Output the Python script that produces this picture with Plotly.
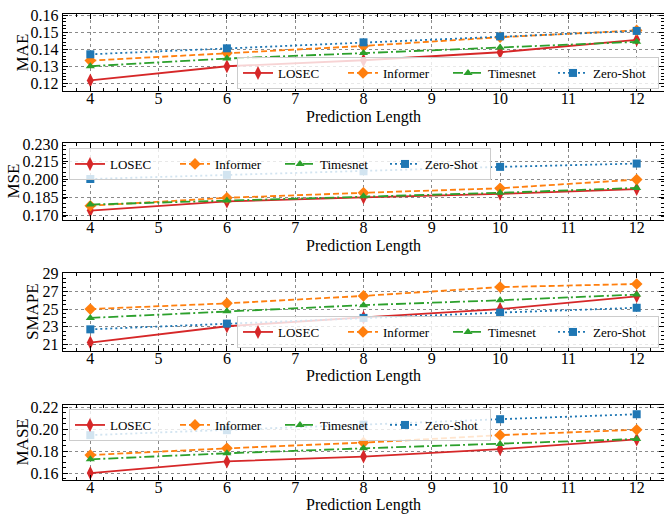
import plotly.graph_objects as go

pred_len = [4, 6, 8, 10, 12]
methods = ["LOSEC", "Informer", "Timesnet", "Zero-Shot"]

mae_losec = [0.1217, 0.1300, 0.1335, 0.1382, 0.1455]
mae_informer = [0.1333, 0.1377, 0.1419, 0.1470, 0.1510]
mae_timesnet = [0.1300, 0.1345, 0.1377, 0.1410, 0.1443]
mae_zeroshot = [0.1370, 0.1405, 0.1440, 0.1475, 0.1507]

mse_losec = [0.1739, 0.1816, 0.1850, 0.1880, 0.1920]
mse_informer = [0.1780, 0.1847, 0.1889, 0.1927, 0.2000]
mse_timesnet = [0.1790, 0.1824, 0.1860, 0.1889, 0.1930]
mse_zeroshot = [0.2005, 0.2040, 0.2070, 0.2107, 0.2135]

smape_losec = [21.2, 23.05, 24.05, 25.0, 26.45]
smape_informer = [25.0, 25.65, 26.5, 27.5, 27.85]
smape_timesnet = [24.0, 24.75, 25.45, 26.0, 26.65]
smape_zeroshot = [22.7, 23.35, 24.0, 24.6, 25.15]

mase_losec = [0.1600, 0.1706, 0.1750, 0.1818, 0.1906]
mase_informer = [0.1764, 0.1825, 0.1877, 0.1945, 0.1994]
mase_timesnet = [0.1725, 0.1780, 0.1825, 0.1865, 0.1910]
mase_zeroshot = [0.1945, 0.1990, 0.2040, 0.2090, 0.2135]

metric_names = ["MAE", "MSE", "SMAPE", "MASE"]
x_title = "Prediction Length"
metric_data = [
    [mae_losec, mae_informer, mae_timesnet, mae_zeroshot],
    [mse_losec, mse_informer, mse_timesnet, mse_zeroshot],
    [smape_losec, smape_informer, smape_timesnet, smape_zeroshot],
    [mase_losec, mase_informer, mase_timesnet, mase_zeroshot],
]
y_ticks = [
    [0.12, 0.13, 0.14, 0.15, 0.16],
    [0.170, 0.185, 0.200, 0.215, 0.230],
    [21, 23, 25, 27, 29],
    [0.16, 0.18, 0.20, 0.22],
]
y_ticktext = [
    ["0.12", "0.13", "0.14", "0.15", "0.16"],
    ["0.170", "0.185", "0.200", "0.215", "0.230"],
    ["21", "23", "25", "27", "29"],
    ["0.16", "0.18", "0.20", "0.22"],
]

# styling
W, H = 664, 514
colors = ["#d62728", "#ff7f0e", "#2ca02c", "#1f77b4"]
dashes = ["solid", "6px,3px", "10px,3px,2px,3px", "2px,3px"]
symbols = ["diamond-tall", "diamond", "triangle-up", "square"]
msizes = [10, 9, 8, 8]
y_ranges = [[0.1155, 0.1606], [0.166, 0.2308], [20.24, 29.1], [0.1537, 0.2219]]
y_minor = [0.002, 0.00375, 0.5, 0.005]
panel_px = [(14, 91), (143, 220), (273, 351), (405, 480)]
xtitle_off = [26, 26, 25, 25]
ytitle_x = [22, 13, 32, 22]
FONT = "Liberation Serif"

fig = go.Figure()
for p in range(4):
    ax = "" if p == 0 else str(p + 1)
    leg = "legend" if p == 0 else "legend%d" % (p + 1)
    for m in range(4):
        fig.add_trace(go.Scatter(
            x=pred_len, y=metric_data[p][m], name=methods[m], mode="lines+markers",
            line=dict(color=colors[m], width=1.8, dash=dashes[m]),
            marker=dict(symbol=symbols[m], size=msizes[m], color=colors[m]),
            xaxis="x" + ax, yaxis="y" + ax, legend=leg, showlegend=True,
        ))

layout = dict(
    width=W, height=H, margin=dict(l=0, r=0, t=0, b=0),
    paper_bgcolor="white", plot_bgcolor="white",
    font=dict(family=FONT, size=16, color="black"),
)
annotations = []
x0 = 63 / W
for p in range(4):
    top, bot = panel_px[p]
    ax = "" if p == 0 else str(p + 1)
    axis_common = dict(
        showline=True, linecolor="black", linewidth=1.4, mirror="ticks",
        ticks="inside", ticklen=5, tickwidth=1, tickcolor="black",
        showgrid=True, gridcolor="#8a8a8a", griddash="dot", gridwidth=1,
        zeroline=False, automargin=False,
        tickfont=dict(family=FONT, size=16, color="black"),
    )
    layout["xaxis" + ax] = dict(
        axis_common, domain=[x0, 1], anchor="y" + ax, range=[3.6, 12.4],
        tickmode="array", tickvals=list(range(4, 13)), ticklabelstandoff=-7,
        minor=dict(dtick=0.2, ticks="inside", ticklen=3, tickcolor="black", showgrid=False),
    )
    layout["yaxis" + ax] = dict(
        axis_common, domain=[1 - bot / H, 1 - top / H], anchor="x" + ax,
        range=y_ranges[p], tickmode="array", tickvals=y_ticks[p], ticktext=y_ticktext[p],
        minor=dict(dtick=y_minor[p], tick0=0, ticks="inside", ticklen=3, tickcolor="black", showgrid=False),
    )
    annotations.append(dict(
        text=x_title, xref="paper", yref="paper", x=(63 + 664) / 2 / W,
        y=1 - (bot + xtitle_off[p]) / H, xanchor="center", yanchor="middle", showarrow=False,
        borderpad=0, font=dict(family=FONT, size=16, color="black"),
    ))
    annotations.append(dict(
        text=metric_names[p], xref="paper", yref="paper", x=ytitle_x[p] / W,
        y=1 - (top + bot) / 2 / H, xanchor="center", yanchor="middle", showarrow=False,
        textangle=-90, font=dict(family=FONT, size=17, color="black"),
    ))
layout["annotations"] = annotations

leg_common = dict(
    orientation="h", bgcolor="rgba(255,255,255,0.8)", bordercolor="#cccccc", borderwidth=1,
    font=dict(family=FONT, size=13, color="black"), entrywidth=60, entrywidthmode="pixels",
    xref="paper", yref="paper", tracegroupgap=0,
)
layout["legend"] = dict(leg_common, x=659 / W, xanchor="right", y=1 - 89 / H, yanchor="bottom")
layout["legend2"] = dict(leg_common, x=69 / W, xanchor="left", y=1 - 148 / H, yanchor="top")
layout["legend3"] = dict(leg_common, x=659 / W, xanchor="right", y=1 - 348 / H, yanchor="bottom")
layout["legend4"] = dict(leg_common, x=69 / W, xanchor="left", y=1 - 409 / H, yanchor="top")

fig.update_layout(**layout)
fig.write_html(
    "out.html",
    config={"displayModeBar": False},
    post_script="document.body.style.margin='0px';document.body.style.overflow='hidden';",
)
